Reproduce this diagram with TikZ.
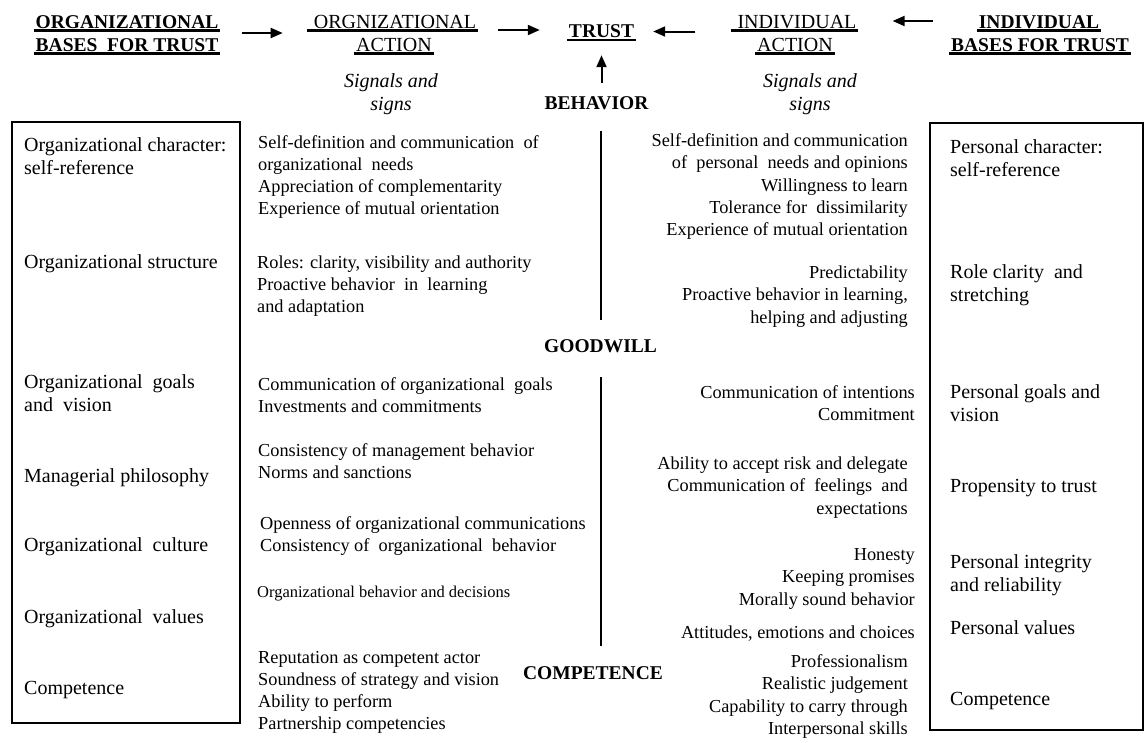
\documentclass[tikz,border=0pt]{standalone}
\usepackage{fontspec}
\setmainfont{Liberation Serif}
\usetikzlibrary{arrows.meta}
\newsavebox\ulbox
\newcommand\myul[1]{\sbox\ulbox{#1}\rlap{\hspace{-2pt}\rule[-3.5pt]{\dimexpr\wd\ulbox+4pt\relax}{2.2pt}}\usebox\ulbox}
\newcommand\fst{\rule{0pt}{15pt}}
\begin{document}
\begin{tikzpicture}[x=1pt,y=-1pt,
  every node/.style={inner sep=0pt},
  boxtxt/.style={font=\fontsize{20}{22.5}\selectfont, align=left, anchor=north west},
  midl/.style={font=\fontsize{18.3}{22}\selectfont, align=left, anchor=north west},
  smalltxt/.style={font=\fontsize{16.5}{20}\selectfont, align=left, anchor=north west},
  midr/.style={font=\fontsize{18.3}{22.2}\selectfont, align=right, anchor=north east},
  hdr/.style={font=\fontsize{20}{23}\selectfont, anchor=base},
  bhdr/.style={font=\fontsize{19.5}{23}\selectfont\bfseries, anchor=base},
  lvl/.style={font=\fontsize{19.5}{22}\selectfont\bfseries},
  sig/.style={font=\fontsize{20}{22.7}\selectfont\itshape, align=center, anchor=north},
  arr/.style={line width=2pt, -{Triangle[length=12pt,width=10pt]}},
  vline/.style={line width=2pt},
  boxframe/.style={draw, line width=2pt}]
\useasboundingbox (0,0) rectangle (1145,742);

% header
\node[bhdr] (obt1) at (127,28) {\myul{ORGANIZATIONAL}};
\node[bhdr] (obt2) at (127,51) {\myul{BASES\ \ FOR TRUST}};
\node[hdr] (oa1) at (392.5,28) {\myul{\ ORGNIZATIONAL}};
\node[hdr] (oa2) at (394,51) {\myul{ACTION}};
\node[bhdr] (trust) at (601.5,37.5) {\myul{TRUST}};
\node[hdr] (ia1) at (794.5,28) {\myul{\ INDIVIDUAL}};
\node[hdr] (ia2) at (795,51) {\myul{ACTION}};
\node[bhdr] (ibt1) at (1039,28) {\myul{INDIVIDUAL}};
\node[bhdr] (ibt2) at (1040,51) {\myul{BASES FOR TRUST}};

\node[sig] (sigl) at (391,72.3) {\fst Signals and\\signs};
\node[sig] (sigr) at (810,72.3) {\fst Signals and\\signs};

\node[lvl] (beh) at (596.5,102.7) {BEHAVIOR};
\node[lvl] (good) at (600.5,346) {GOODWILL};
\node[lvl] (comp) at (593,673.5) {COMPETENCE};

% arrows
\coordinate (ya) at (0,33);
\coordinate (yb) at (0,30);
\coordinate (yc) at (0,31.5);
\coordinate (yd) at (0,21);
\draw[arr, shorten <=23pt, shorten >=26pt] (obt1.east |- ya) -- (oa1.west |- ya);
\draw[arr, shorten <=22pt, shorten >=29pt] (oa1.east |- yb) -- (trust.west |- yb);
\draw[arr, shorten <=37pt, shorten >=19pt] (ia1.west |- yc) -- (trust.east |- yc);
\draw[arr, shorten <=18pt, shorten >=36pt] (ibt2.west |- yd) -- (ia1.east |- yd);
\draw[arr, shorten <=13pt, shorten >=14pt] (trust.south |- beh.north) -- (trust.south);

% vertical separators
\draw[vline, shorten <=21.7pt, shorten >=19.4pt] (good.north |- beh.south) -- (good.north);
\draw[vline, shorten <=24.4pt, shorten >=20.9pt] (good.south) -- (good.south |- comp.north);

% frames
\draw[boxframe] (12,122) rectangle (240,723);
\draw[boxframe] (930,123) rectangle (1143,730);

% left column
\node[boxtxt] (l1) at (24,136.5) {\fst Organizational character:\\self-reference};
\node[boxtxt] (l2) at (24,253.5) {\fst Organizational structure};
\node[boxtxt] (l3) at (24,373.5) {\fst Organizational\ \ goals\\and\ \ vision};
\node[boxtxt] (l4) at (24,467.5) {\fst Managerial philosophy};
\node[boxtxt] (l5) at (24,536.5) {\fst Organizational\ \ culture};
\node[boxtxt] (l6) at (24,608.5) {\fst Organizational\ \ values};
\node[boxtxt] (l7) at (24,679.5) {\fst Competence};

% middle left
\node[midl] (m1) at (258,133.5) {\fst Self-definition and communication\ \ of\\organizational\ \ needs\\Appreciation of\ complementarity\\Experience of mutual orientation};
\node[midl] (m2) at (257,253.5) {\fst Roles: clarity, visibility and authority\\Proactive behavior\ \ in\ \ learning\\and adaptation};
\node[midl] (m3) at (258,375.5) {\fst Communication of\ organizational\ \ goals\\Investments and commitments};
\node[midl] (m4) at (258,441.5) {\fst Consistency of management behavior\\Norms and sanctions};
\node[midl] (m5) at (260,514.5) {\fst Openness of organizational communications\\Consistency of\ \ organizational\ \ behavior};
\node[smalltxt] (m6) at (257,582.5) {\fst Organizational behavior and decisions};
\node[midl] (m7) at (258,648.5) {\fst Reputation as competent actor\\Soundness of strategy and vision\\Ability to perform\\Partnership competencies};

% middle right
\node[midr] (r1) at (908,131.5) {\fst Self-definition and communication\\of\ \ personal\ \ needs and opinions\\Willingness to learn\\Tolerance for\ \ dissimilarity\ \\Experience of mutual orientation};
\node[midr] (r2) at (908,263.5) {\fst Predictability\\Proactive behavior in learning,\\helping and adjusting};
\node[midr] (r3) at (915,383.5) {\fst Communication of intentions\\Commitment};
\node[midr] (r4) at (908,454.5) {\fst Ability to accept risk and delegate\\Communication of\ \ feelings\ \ and\\expectations};
\node[midr] (r5) at (915,545.5) {\fst Honesty\\Keeping promises\\Morally sound behavior\ };
\node[midr] (r6) at (915,623.5) {\fst Attitudes, emotions and choices};
\node[midr] (r7) at (908,652.5) {\fst Professionalism\\Realistic judgement\\Capability to carry through\\Interpersonal skills};

% right column
\node[boxtxt] (p1) at (950,138.5) {\fst Personal character:\\self-reference};
\node[boxtxt] (p2) at (950,263.5) {\fst Role clarity\ \ and\\stretching};
\node[boxtxt] (p3) at (950,383.5) {\fst Personal goals and\\vision};
\node[boxtxt] (p4) at (950,477.5) {\fst Propensity to trust};
\node[boxtxt] (p5) at (950,553.5) {\fst Personal integrity\\and reliability};
\node[boxtxt] (p6) at (950,619.5) {\fst Personal values};
\node[boxtxt] (p7) at (950,690.5) {\fst Competence};
\end{tikzpicture}
\end{document}
